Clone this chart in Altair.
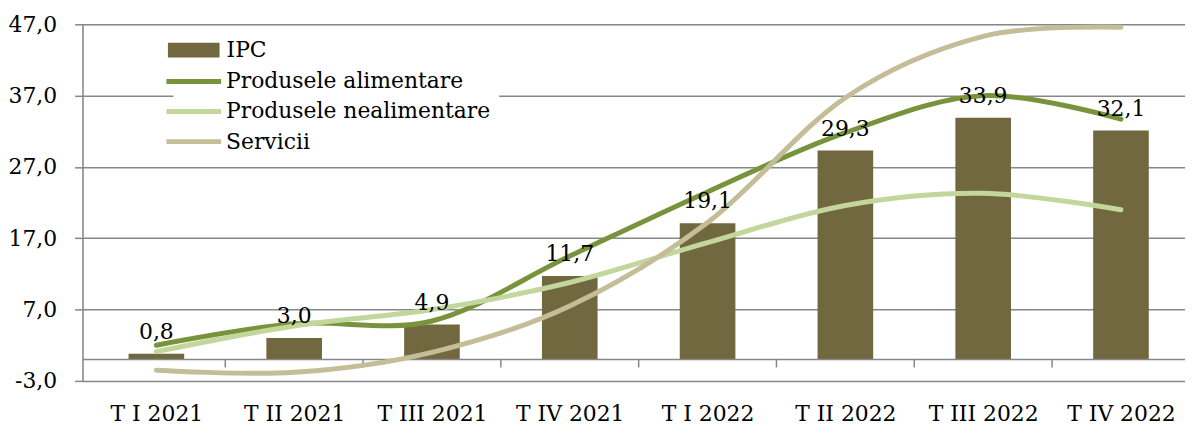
import json
import altair as alt
import pandas as pd

# ---------------- data ----------------
categories = ["T I 2021", "T II 2021", "T III 2021", "T IV 2021",
              "T I 2022", "T II 2022", "T III 2022", "T IV 2022"]
ipc = [0.8, 3.0, 4.9, 11.7, 19.1, 29.3, 33.9, 32.1]
alimentare = [2.0, 5.0, 5.4, 14.5, 23.5, 31.8, 37.0, 33.7]
nealimentare = [1.1, 4.7, 7.0, 10.8, 16.4, 21.6, 23.3, 21.0]
servicii = [-1.5, -1.8, 1.0, 7.5, 19.2, 36.7, 45.3, 46.6]
y_ticks = [-3, 7, 17, 27, 37, 47]

bar_name = "IPC"
line_names = ["Produsele alimentare", "Produsele nealimentare", "Servicii"]
bar_color = "#716840"
line_colors = ["#77933C", "#C3D69B", "#C4BD97"]

# ---------------- style ----------------
FONT = "DejaVu Serif"
FS = 22
GRID = "#878787"
W, H = 1110, 359
STEP = 140

n = len(categories)
bars_df = pd.DataFrame({
    "i": list(range(n)),
    "v": ipc,
    "series": [bar_name] * n,
    "lab": [f"{x:.1f}".replace(".", ",") for x in ipc],
})
lines_df = pd.DataFrame({
    "i": list(range(n)) * 3,
    "v": alimentare + nealimentare + servicii,
    "series": sum([[s] * n for s in line_names], []),
})
zero_df = pd.DataFrame({"v": [0]})
ticks_df = pd.DataFrame({"i": [k + 0.5 for k in range(n - 1)],
                         "v": [0] * (n - 1), "v2": [0] * (n - 1)})

label_expr = json.dumps(categories) + "[datum.value]"
y_label_expr = "replace(replace(format(datum.value, '.1f'), '.', ','), '\u2212', '-')"

x_enc = alt.X(
    "i:Q",
    scale=alt.Scale(domain=[-0.5, -0.5 + W / STEP], nice=False, zero=False),
    axis=alt.Axis(values=list(range(n)), labelExpr=label_expr, grid=False,
                  ticks=False, domain=False, labelPadding=23, labelFlush=False,
                  labelFont=FONT, labelFontSize=FS, labelColor="black",
                  labelOverlap=False),
    title=None,
)
y_enc = alt.Y(
    "v:Q",
    scale=alt.Scale(domain=[y_ticks[0], y_ticks[-1]], nice=False),
    axis=alt.Axis(values=y_ticks,
                  labelExpr=y_label_expr,
                  grid=True, gridColor=GRID, gridWidth=1.5,
                  domainColor=GRID, domainWidth=1.5,
                  tickColor=GRID, tickWidth=1.5, tickSize=8,
                  labelPadding=18, labelFont=FONT, labelFontSize=FS,
                  labelColor="black"),
    title=None,
)

bars = alt.Chart(bars_df).mark_bar(size=56).encode(
    x=x_enc, y=y_enc,
    fill=alt.Fill("series:N",
                  scale=alt.Scale(domain=[bar_name], range=[bar_color]),
                  legend=alt.Legend(title=None, orient="none", legendX=101, legendY=15,
                                    symbolType="M-2.6,-0.75H2.6V0.75H-2.6Z",
                                    symbolSize=400, symbolStrokeWidth=0,
                                    labelFont=FONT, labelFontSize=FS, labelColor="black",
                                    labelOffset=22, labelLimit=600, padding=0)),
)

zero_line = alt.Chart(zero_df).mark_rule(color=GRID, strokeWidth=1.5).encode(y=y_enc)
zero_ticks = alt.Chart(ticks_df).mark_rule(color=GRID, strokeWidth=1.5, y2Offset=8).encode(
    x=x_enc, y=y_enc, y2=alt.Y2("v2:Q"))

lines = alt.Chart(lines_df).mark_line(strokeWidth=5, interpolate="cardinal",
                                      strokeCap="round").encode(
    x=x_enc, y=y_enc,
    stroke=alt.Stroke("series:N",
                      scale=alt.Scale(domain=line_names, range=line_colors),
                      legend=alt.Legend(title=None, orient="none", legendX=91.5, legendY=37,
                                        symbolType="M-2.75,0H2.75",
                                        symbolSize=400, symbolStrokeWidth=5,
                                        labelFont=FONT, labelFontSize=FS, labelColor="black",
                                        labelOffset=20, labelLimit=600, rowPadding=6.3,
                                        padding=8, fillColor="white")),
)

labels = alt.Chart(bars_df).mark_text(font=FONT, fontSize=FS, dy=-15,
                                      baseline="alphabetic", color="black").encode(
    x=x_enc, y=y_enc, text="lab:N")

chart = alt.layer(bars, zero_line, zero_ticks, lines, labels).resolve_scale(
    fill="independent", stroke="independent"
).properties(
    width=W, height=H,
    autosize=alt.AutoSizeParams(type="none"),
    padding={"left": 75, "top": 15, "right": 0, "bottom": 44},
).configure_view(stroke=None).configure(background="white")

chart.save("out.html", embed_options={"renderer": "svg", "actions": False})
